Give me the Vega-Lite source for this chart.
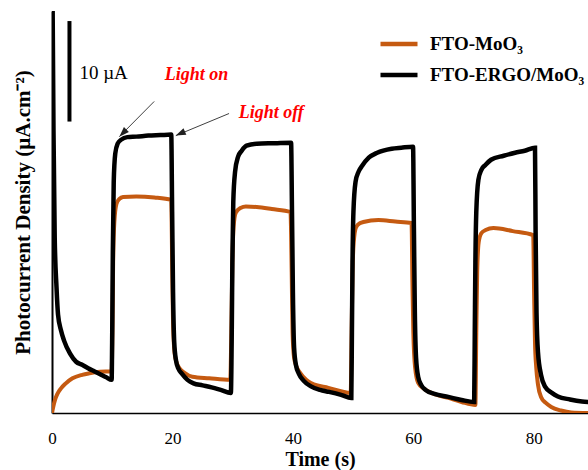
{
  "$schema": "https://vega.github.io/schema/vega-lite/v6.json",
  "width": 536,
  "height": 402,
  "autosize": {"type": "none"},
  "padding": {"left": 52, "top": 11, "right": 0, "bottom": 57},
  "background": "white",
  "config": {"view": {"stroke": null}, "font": "Liberation Serif"},
  "datasets": {
    "curves": [
      {"s": "FTO-ERGO/MoO₃", "t": 0.05, "v": 45},
      {"s": "FTO-ERGO/MoO₃", "t": 0.25, "v": 28},
      {"s": "FTO-ERGO/MoO₃", "t": 0.45, "v": 17.5},
      {"s": "FTO-ERGO/MoO₃", "t": 0.75, "v": 12.5},
      {"s": "FTO-ERGO/MoO₃", "t": 1.0, "v": 9.8},
      {"s": "FTO-ERGO/MoO₃", "t": 1.5, "v": 8.2},
      {"s": "FTO-ERGO/MoO₃", "t": 2.0, "v": 7.2},
      {"s": "FTO-ERGO/MoO₃", "t": 3.0, "v": 5.9},
      {"s": "FTO-ERGO/MoO₃", "t": 4.0, "v": 5.1},
      {"s": "FTO-ERGO/MoO₃", "t": 5.0, "v": 4.8},
      {"s": "FTO-ERGO/MoO₃", "t": 6.0, "v": 4.45},
      {"s": "FTO-ERGO/MoO₃", "t": 7.0, "v": 4.15},
      {"s": "FTO-ERGO/MoO₃", "t": 8.0, "v": 3.85},
      {"s": "FTO-ERGO/MoO₃", "t": 9.0, "v": 3.55},
      {"s": "FTO-ERGO/MoO₃", "t": 9.9, "v": 3.3},
      {"s": "FTO-ERGO/MoO₃", "t": 10.0, "v": 8},
      {"s": "FTO-ERGO/MoO₃", "t": 10.1, "v": 16},
      {"s": "FTO-ERGO/MoO₃", "t": 10.25, "v": 23},
      {"s": "FTO-ERGO/MoO₃", "t": 10.5, "v": 25.8},
      {"s": "FTO-ERGO/MoO₃", "t": 10.9, "v": 26.8},
      {"s": "FTO-ERGO/MoO₃", "t": 11.5, "v": 27.2},
      {"s": "FTO-ERGO/MoO₃", "t": 12.5, "v": 27.45},
      {"s": "FTO-ERGO/MoO₃", "t": 14, "v": 27.5},
      {"s": "FTO-ERGO/MoO₃", "t": 16, "v": 27.6},
      {"s": "FTO-ERGO/MoO₃", "t": 18, "v": 27.65},
      {"s": "FTO-ERGO/MoO₃", "t": 19.8, "v": 27.7},
      {"s": "FTO-ERGO/MoO₃", "t": 19.95, "v": 20},
      {"s": "FTO-ERGO/MoO₃", "t": 20.1, "v": 12},
      {"s": "FTO-ERGO/MoO₃", "t": 20.3, "v": 7},
      {"s": "FTO-ERGO/MoO₃", "t": 20.6, "v": 5.2},
      {"s": "FTO-ERGO/MoO₃", "t": 21.0, "v": 4.4},
      {"s": "FTO-ERGO/MoO₃", "t": 21.6, "v": 3.9},
      {"s": "FTO-ERGO/MoO₃", "t": 22.5, "v": 3.3},
      {"s": "FTO-ERGO/MoO₃", "t": 23.5, "v": 2.95},
      {"s": "FTO-ERGO/MoO₃", "t": 25, "v": 2.75},
      {"s": "FTO-ERGO/MoO₃", "t": 26.5, "v": 2.55},
      {"s": "FTO-ERGO/MoO₃", "t": 28, "v": 2.3},
      {"s": "FTO-ERGO/MoO₃", "t": 29.7, "v": 2.0},
      {"s": "FTO-ERGO/MoO₃", "t": 29.85, "v": 8},
      {"s": "FTO-ERGO/MoO₃", "t": 29.95, "v": 15},
      {"s": "FTO-ERGO/MoO₃", "t": 30.1, "v": 21},
      {"s": "FTO-ERGO/MoO₃", "t": 30.4, "v": 24},
      {"s": "FTO-ERGO/MoO₃", "t": 30.9, "v": 25.5},
      {"s": "FTO-ERGO/MoO₃", "t": 31.5, "v": 26.1},
      {"s": "FTO-ERGO/MoO₃", "t": 32.3, "v": 26.6},
      {"s": "FTO-ERGO/MoO₃", "t": 34, "v": 26.8},
      {"s": "FTO-ERGO/MoO₃", "t": 37, "v": 26.85},
      {"s": "FTO-ERGO/MoO₃", "t": 39.7, "v": 26.9},
      {"s": "FTO-ERGO/MoO₃", "t": 39.85, "v": 20},
      {"s": "FTO-ERGO/MoO₃", "t": 40.0, "v": 12},
      {"s": "FTO-ERGO/MoO₃", "t": 40.2, "v": 6.5},
      {"s": "FTO-ERGO/MoO₃", "t": 40.5, "v": 4.8},
      {"s": "FTO-ERGO/MoO₃", "t": 41.0, "v": 3.9},
      {"s": "FTO-ERGO/MoO₃", "t": 41.8, "v": 3.2},
      {"s": "FTO-ERGO/MoO₃", "t": 43, "v": 2.65},
      {"s": "FTO-ERGO/MoO₃", "t": 44.5, "v": 2.3},
      {"s": "FTO-ERGO/MoO₃", "t": 46, "v": 2.1},
      {"s": "FTO-ERGO/MoO₃", "t": 48, "v": 1.8},
      {"s": "FTO-ERGO/MoO₃", "t": 49.7, "v": 1.5},
      {"s": "FTO-ERGO/MoO₃", "t": 49.8, "v": 8},
      {"s": "FTO-ERGO/MoO₃", "t": 49.9, "v": 15},
      {"s": "FTO-ERGO/MoO₃", "t": 50.05, "v": 20},
      {"s": "FTO-ERGO/MoO₃", "t": 50.4, "v": 23},
      {"s": "FTO-ERGO/MoO₃", "t": 50.9, "v": 24},
      {"s": "FTO-ERGO/MoO₃", "t": 51.5, "v": 24.6},
      {"s": "FTO-ERGO/MoO₃", "t": 52.6, "v": 25.4},
      {"s": "FTO-ERGO/MoO₃", "t": 54, "v": 25.9},
      {"s": "FTO-ERGO/MoO₃", "t": 56.4, "v": 26.3},
      {"s": "FTO-ERGO/MoO₃", "t": 58, "v": 26.4},
      {"s": "FTO-ERGO/MoO₃", "t": 59.95, "v": 26.5},
      {"s": "FTO-ERGO/MoO₃", "t": 60.1, "v": 18},
      {"s": "FTO-ERGO/MoO₃", "t": 60.25, "v": 10},
      {"s": "FTO-ERGO/MoO₃", "t": 60.45, "v": 5.5},
      {"s": "FTO-ERGO/MoO₃", "t": 60.8, "v": 3.6},
      {"s": "FTO-ERGO/MoO₃", "t": 61.3, "v": 2.8},
      {"s": "FTO-ERGO/MoO₃", "t": 62, "v": 2.3},
      {"s": "FTO-ERGO/MoO₃", "t": 63.5, "v": 1.9},
      {"s": "FTO-ERGO/MoO₃", "t": 65.8, "v": 1.6},
      {"s": "FTO-ERGO/MoO₃", "t": 68, "v": 1.3},
      {"s": "FTO-ERGO/MoO₃", "t": 70.1, "v": 1.1},
      {"s": "FTO-ERGO/MoO₃", "t": 70.2, "v": 8},
      {"s": "FTO-ERGO/MoO₃", "t": 70.3, "v": 15},
      {"s": "FTO-ERGO/MoO₃", "t": 70.45, "v": 20},
      {"s": "FTO-ERGO/MoO₃", "t": 70.8, "v": 23.2},
      {"s": "FTO-ERGO/MoO₃", "t": 71.3, "v": 24.2},
      {"s": "FTO-ERGO/MoO₃", "t": 72, "v": 24.7},
      {"s": "FTO-ERGO/MoO₃", "t": 72.9, "v": 25.2},
      {"s": "FTO-ERGO/MoO₃", "t": 75, "v": 25.6},
      {"s": "FTO-ERGO/MoO₃", "t": 76.9, "v": 25.9},
      {"s": "FTO-ERGO/MoO₃", "t": 78.5, "v": 26.1},
      {"s": "FTO-ERGO/MoO₃", "t": 80.2, "v": 26.4},
      {"s": "FTO-ERGO/MoO₃", "t": 80.3, "v": 18},
      {"s": "FTO-ERGO/MoO₃", "t": 80.45, "v": 10},
      {"s": "FTO-ERGO/MoO₃", "t": 80.7, "v": 6.0},
      {"s": "FTO-ERGO/MoO₃", "t": 81.2, "v": 3.8},
      {"s": "FTO-ERGO/MoO₃", "t": 81.9, "v": 2.6},
      {"s": "FTO-ERGO/MoO₃", "t": 83, "v": 2.0},
      {"s": "FTO-ERGO/MoO₃", "t": 84, "v": 1.65},
      {"s": "FTO-ERGO/MoO₃", "t": 86, "v": 1.35},
      {"s": "FTO-ERGO/MoO₃", "t": 88, "v": 1.15},
      {"s": "FTO-ERGO/MoO₃", "t": 89.2, "v": 1.1},
      {"s": "FTO-MoO₃", "t": 0, "v": 0},
      {"s": "FTO-MoO₃", "t": 0.2, "v": 0.6},
      {"s": "FTO-MoO₃", "t": 0.5, "v": 1.3},
      {"s": "FTO-MoO₃", "t": 0.9, "v": 1.9},
      {"s": "FTO-MoO₃", "t": 1.5, "v": 2.45},
      {"s": "FTO-MoO₃", "t": 2.2, "v": 2.9},
      {"s": "FTO-MoO₃", "t": 3.4, "v": 3.45},
      {"s": "FTO-MoO₃", "t": 5.0, "v": 3.8},
      {"s": "FTO-MoO₃", "t": 6.2, "v": 3.95},
      {"s": "FTO-MoO₃", "t": 8, "v": 4.1},
      {"s": "FTO-MoO₃", "t": 9.9, "v": 4.15},
      {"s": "FTO-MoO₃", "t": 10.05, "v": 9},
      {"s": "FTO-MoO₃", "t": 10.15, "v": 15},
      {"s": "FTO-MoO₃", "t": 10.35, "v": 19},
      {"s": "FTO-MoO₃", "t": 10.7, "v": 20.8},
      {"s": "FTO-MoO₃", "t": 11.2, "v": 21.3},
      {"s": "FTO-MoO₃", "t": 11.8, "v": 21.5},
      {"s": "FTO-MoO₃", "t": 14, "v": 21.55},
      {"s": "FTO-MoO₃", "t": 17, "v": 21.45},
      {"s": "FTO-MoO₃", "t": 19.8, "v": 21.2},
      {"s": "FTO-MoO₃", "t": 19.95, "v": 15},
      {"s": "FTO-MoO₃", "t": 20.1, "v": 9},
      {"s": "FTO-MoO₃", "t": 20.35, "v": 6},
      {"s": "FTO-MoO₃", "t": 20.7, "v": 5.0},
      {"s": "FTO-MoO₃", "t": 21.1, "v": 4.5},
      {"s": "FTO-MoO₃", "t": 22, "v": 4.0},
      {"s": "FTO-MoO₃", "t": 23.3, "v": 3.6},
      {"s": "FTO-MoO₃", "t": 26.1, "v": 3.45},
      {"s": "FTO-MoO₃", "t": 29.6, "v": 3.3},
      {"s": "FTO-MoO₃", "t": 29.8, "v": 9},
      {"s": "FTO-MoO₃", "t": 29.95, "v": 15},
      {"s": "FTO-MoO₃", "t": 30.15, "v": 18.5},
      {"s": "FTO-MoO₃", "t": 30.5, "v": 19.9},
      {"s": "FTO-MoO₃", "t": 31.3, "v": 20.4},
      {"s": "FTO-MoO₃", "t": 32.2, "v": 20.55},
      {"s": "FTO-MoO₃", "t": 34, "v": 20.5},
      {"s": "FTO-MoO₃", "t": 36.5, "v": 20.3},
      {"s": "FTO-MoO₃", "t": 39.6, "v": 20.0},
      {"s": "FTO-MoO₃", "t": 39.8, "v": 14},
      {"s": "FTO-MoO₃", "t": 39.95, "v": 8},
      {"s": "FTO-MoO₃", "t": 40.2, "v": 5.5},
      {"s": "FTO-MoO₃", "t": 40.6, "v": 4.6},
      {"s": "FTO-MoO₃", "t": 41.2, "v": 4.0},
      {"s": "FTO-MoO₃", "t": 42.2, "v": 3.3},
      {"s": "FTO-MoO₃", "t": 43.1, "v": 2.95},
      {"s": "FTO-MoO₃", "t": 45.9, "v": 2.5},
      {"s": "FTO-MoO₃", "t": 49.6, "v": 2.0},
      {"s": "FTO-MoO₃", "t": 49.75, "v": 8},
      {"s": "FTO-MoO₃", "t": 49.9, "v": 14},
      {"s": "FTO-MoO₃", "t": 50.1, "v": 17},
      {"s": "FTO-MoO₃", "t": 50.5, "v": 18.5},
      {"s": "FTO-MoO₃", "t": 51.2, "v": 18.9},
      {"s": "FTO-MoO₃", "t": 51.7, "v": 19.0},
      {"s": "FTO-MoO₃", "t": 54.2, "v": 19.2},
      {"s": "FTO-MoO₃", "t": 57, "v": 19.05},
      {"s": "FTO-MoO₃", "t": 59.7, "v": 18.9},
      {"s": "FTO-MoO₃", "t": 59.85, "v": 13},
      {"s": "FTO-MoO₃", "t": 60.0, "v": 8},
      {"s": "FTO-MoO₃", "t": 60.3, "v": 4.5},
      {"s": "FTO-MoO₃", "t": 60.8, "v": 3.0},
      {"s": "FTO-MoO₃", "t": 61.8, "v": 2.4},
      {"s": "FTO-MoO₃", "t": 63, "v": 2.0},
      {"s": "FTO-MoO₃", "t": 65.8, "v": 1.5},
      {"s": "FTO-MoO₃", "t": 68, "v": 1.1},
      {"s": "FTO-MoO₃", "t": 70.3, "v": 0.8},
      {"s": "FTO-MoO₃", "t": 70.45, "v": 8},
      {"s": "FTO-MoO₃", "t": 70.6, "v": 14},
      {"s": "FTO-MoO₃", "t": 70.85, "v": 17},
      {"s": "FTO-MoO₃", "t": 71.3, "v": 17.9},
      {"s": "FTO-MoO₃", "t": 72, "v": 18.2},
      {"s": "FTO-MoO₃", "t": 73.3, "v": 18.4},
      {"s": "FTO-MoO₃", "t": 76.5, "v": 18.1},
      {"s": "FTO-MoO₃", "t": 79.9, "v": 17.7},
      {"s": "FTO-MoO₃", "t": 80.05, "v": 12},
      {"s": "FTO-MoO₃", "t": 80.2, "v": 7},
      {"s": "FTO-MoO₃", "t": 80.4, "v": 4.6},
      {"s": "FTO-MoO₃", "t": 80.7, "v": 2.8},
      {"s": "FTO-MoO₃", "t": 81.2, "v": 1.6},
      {"s": "FTO-MoO₃", "t": 82, "v": 1.0},
      {"s": "FTO-MoO₃", "t": 82.9, "v": 0.6},
      {"s": "FTO-MoO₃", "t": 84.5, "v": 0.25},
      {"s": "FTO-MoO₃", "t": 86.2, "v": 0.05},
      {"s": "FTO-MoO₃", "t": 89.2, "v": 0}
    ],
    "arrows": [
      {"label": "on", "t": 16.97, "v": 31.0, "t2": 11.18, "v2": 27.5},
      {"label": "off", "t": 29.4, "v": 29.8, "t2": 20.56, "v2": 27.6}
    ],
    "notes": [
      {"text": "Light on", "t": 24.0, "v": 33.6},
      {"text": "Light off", "t": 36.4, "v": 29.9}
    ]
  },
  "layer": [
    {
      "mark": {"type": "rule", "color": "#000", "strokeWidth": 1.5},
      "encoding": {"y": {"datum": 40, "type": "quantitative"}}
    },
    {
      "data": {"name": "curves"},
      "transform": [{"filter": "datum.s === 'FTO-MoO₃'"}],
      "mark": {"type": "line", "strokeWidth": 4, "interpolate": "monotone", "clip": true},
      "encoding": {
        "x": {
          "field": "t", "type": "quantitative",
          "scale": {"domain": [0, 89], "nice": false, "zero": false},
          "axis": {
            "title": "Time (s)", "values": [0, 20, 40, 60, 80],
            "grid": false, "ticks": false, "tickSize": 0,
            "domainColor": "#000", "domainWidth": 1.5,
            "labelFont": "Liberation Serif", "labelFontSize": 17, "labelColor": "#000",
            "labelPadding": 17, "labelFlush": false,
            "titleFont": "Liberation Serif", "titleFontSize": 20, "titleFontWeight": "bold",
            "titleColor": "#000", "titlePadding": 3
          }
        },
        "y": {
          "field": "v", "type": "quantitative",
          "scale": {"domain": [0, 40], "nice": false},
          "axis": {
            "title": "Photocurrent Density (µA.cm⁻²)",
            "labels": false, "ticks": false, "tickSize": 0, "grid": false,
            "domainColor": "#000", "domainWidth": 2,
            "titleFont": "Liberation Serif", "titleFontSize": 21, "titleFontWeight": "bold",
            "titleColor": "#000", "titlePadding": 19
          }
        },
        "color": {
          "field": "s", "type": "nominal",
          "scale": {"domain": ["FTO-MoO₃", "FTO-ERGO/MoO₃"], "range": ["#C55A11", "#000000"]},
          "legend": {
            "title": null, "orient": "none", "legendX": 326, "legendY": 12,
            "symbolType": "stroke", "symbolSize": 1369, "symbolStrokeWidth": 4.5,
            "labelFont": "Liberation Serif", "labelFontSize": 19, "labelFontWeight": "bold",
            "labelColor": "#000", "labelOffset": 10, "rowPadding": -6, "padding": 0
          }
        }
      }
    },
    {
      "data": {"name": "curves"},
      "transform": [{"filter": "datum.s === 'FTO-ERGO/MoO₃'"}],
      "mark": {"type": "line", "strokeWidth": 4.5, "interpolate": "monotone", "clip": true},
      "encoding": {
        "x": {"field": "t", "type": "quantitative"},
        "y": {"field": "v", "type": "quantitative"},
        "color": {"field": "s", "type": "nominal"}
      }
    },
    {
      "data": {"values": [{"t": 2.9, "v": 29.0, "v2": 39.0}]},
      "mark": {"type": "rule", "color": "#000", "strokeWidth": 4},
      "encoding": {
        "x": {"field": "t", "type": "quantitative"},
        "y": {"field": "v", "type": "quantitative"},
        "y2": {"field": "v2"}
      }
    },
    {
      "data": {"values": [{"text": "10 µA", "t": 4.55, "v": 33.8}]},
      "mark": {"type": "text", "align": "left", "baseline": "middle", "font": "Liberation Serif", "fontSize": 19, "color": "#000"},
      "encoding": {
        "x": {"field": "t", "type": "quantitative"},
        "y": {"field": "v", "type": "quantitative"},
        "text": {"field": "text"}
      }
    },
    {
      "data": {"name": "notes"},
      "mark": {"type": "text", "align": "center", "baseline": "middle", "font": "Liberation Serif", "fontSize": 18, "fontWeight": "bold", "fontStyle": "italic", "color": "#FF0000"},
      "encoding": {
        "x": {"field": "t", "type": "quantitative"},
        "y": {"field": "v", "type": "quantitative"},
        "text": {"field": "text"}
      }
    },
    {
      "data": {"name": "arrows"},
      "mark": {"type": "rule", "color": "#404040", "strokeWidth": 1},
      "encoding": {
        "x": {"field": "t", "type": "quantitative"},
        "y": {"field": "v", "type": "quantitative"},
        "x2": {"field": "t2"},
        "y2": {"field": "v2"}
      }
    },
    {
      "data": {"name": "arrows"},
      "transform": [{"filter": "datum.label === 'on'"}],
      "mark": {"type": "point", "shape": "M0,0 L-0.7,2 L0.7,2 Z", "size": 100, "filled": true, "opacity": 1, "color": "#202020", "angle": 225},
      "encoding": {
        "x": {"field": "t2", "type": "quantitative"},
        "y": {"field": "v2", "type": "quantitative"}
      }
    },
    {
      "data": {"name": "arrows"},
      "transform": [{"filter": "datum.label === 'off'"}],
      "mark": {"type": "point", "shape": "M0,0 L-0.7,2 L0.7,2 Z", "size": 100, "filled": true, "opacity": 1, "color": "#202020", "angle": 245.5},
      "encoding": {
        "x": {"field": "t2", "type": "quantitative"},
        "y": {"field": "v2", "type": "quantitative"}
      }
    }
  ]
}
